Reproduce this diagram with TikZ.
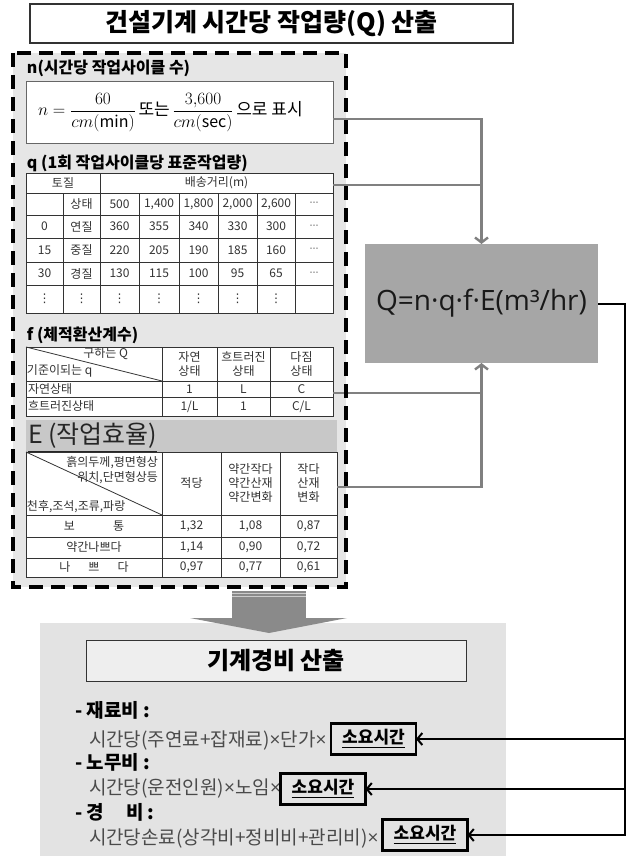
\documentclass[tikz,border=0pt]{standalone}
\usepackage{amsmath}
\usepackage{fontspec}
\setmainfont{Noto Sans CJK KR}
\newfontfamily\dejavu{DejaVu Sans}
\newfontfamily\qfont{Open Sans}
\usetikzlibrary{arrows.meta}
\definecolor{dashbg}{HTML}{E6E6E6}
\definecolor{panelbg}{HTML}{E3E3E3}
\definecolor{qgray}{HTML}{A6A6A6}
\definecolor{connG}{HTML}{808080}
\definecolor{arrowG}{HTML}{8A8A8A}
\definecolor{ebar}{HTML}{C8C8C8}
\definecolor{tabline}{HTML}{333333}
\definecolor{tabtxt}{HTML}{333333}
\definecolor{bodytxt}{HTML}{4A4A4A}
\newcommand{\fsz}[2]{\fontsize{#1}{#2}\selectfont}
\newcommand{\qhd}{{\dejavu\fsz{9}{10}⋯}}
\newcommand{\qvd}{{\dejavu\fsz{12}{13}⋮}}
\newcommand{\tms}{{\qfont ×}}
\newcommand{\qrow}[3]{%
  \foreach \t [count=\i] in {#3} {%
    \pgfmathsetmacro\xx{{44.5,81.5,119.5,159,198.5,237.5,276,314}[\i-1]}%
    \node[tcell] (q#1c\i) at (\xx,#2) {\t};}}
\begin{document}
\begin{tikzpicture}[x=1pt,y=-1pt,
  every node/.style={inner sep=0pt, outer sep=0pt},
  tcell/.style={font=\fsz{12}{14}, text=tabtxt, align=center},
  tgrid/.style={draw=tabline, line width=0.8pt},
  hdr/.style={font=\fsz{16}{18}\bfseries, text=black},
  gline/.style={draw=connG, line width=2.4pt},
  garrow/.style={gline, -{Straight Barb[length=5pt,width=13pt]}},
  bline/.style={draw=black, line width=2pt},
  barrow/.style={bline, -{Straight Barb[length=5pt,width=12pt]}},
  sbox/.style={draw=black, line width=2.8pt, minimum width=85pt, minimum height=31pt, font=\fsz{17}{20}\bfseries},
  lbl/.style={font=\fsz{19}{22}\bfseries, text=black},
  body/.style={font=\fsz{19}{22}, text=bodytxt}
]
\useasboundingbox (0,0) rectangle (636,856);
\fill[white] (0,0) rectangle (636,856);

% title
\node[draw=tabline, line width=1.4pt, fill=white, minimum width=483pt, minimum height=39pt,
      font=\fsz{25}{28}\bfseries] (title) at (271.5,23.5) {건설기계 시간당 작업량(Q) 산출};

% dashed panel background
\node[fill=dashbg, minimum width=333pt, minimum height=534pt] (panel) at (179.5,320) {};

% n section
\node[hdr, anchor=west] (nhdr) at (27,68) {n(시간당 작업사이클 수)};
\node[draw=gray!80!black, line width=1pt, fill=white, minimum width=307pt, minimum height=61pt,
      anchor=north west] (nbox) at (26,82) {};
\node[anchor=west] (nform) at (38,112.5) {\fsz{16}{18}$n=\dfrac{60}{cm(\mathrm{min})}$\,{\fsz{17}{19}또는}\,$\dfrac{3{,}600}{cm(\mathrm{sec})}$\,{\fsz{17}{19}으로\ 표시}};

% q section
\node[hdr, anchor=west] (qhdr) at (27,163) {q (1회 작업사이클당 표준작업량)};
\node[fill=white, minimum width=307pt, minimum height=140pt, anchor=north west] (qtab) at (26,173) {};
\draw[tgrid] (26,173) rectangle (333,313);
\foreach \y in {193,215,238,262,285} \draw[tgrid] (26,\y) -- (333,\y);
\draw[tgrid] (100,173) -- (100,313);
\foreach \x in {63,139,179,218,257,295} \draw[tgrid] (\x,193) -- (\x,313);
\node[tcell] (qh1) at (63,183) {토질};
\node[tcell] (qh2) at (216.5,183) {배송거리(m)};
\qrow{2}{204}{{},상태,500,{1,400},{1,800},{2,000},{2,600},\qhd}
\qrow{3}{226.5}{0,연질,360,355,340,330,300,\qhd}
\qrow{4}{250}{15,중질,220,205,190,185,160,\qhd}
\qrow{5}{273.5}{30,경질,130,115,100,95,65,\qhd}
\qrow{6}{299}{\qvd,\qvd,\qvd,\qvd,\qvd,\qvd,\qvd,{}}

% f section
\node[hdr, anchor=west] (fhdr) at (27,335) {f (체적환산계수)};
\node[fill=white, minimum width=307pt, minimum height=69pt, anchor=north west] (ftab) at (26,347) {};
\draw[tgrid] (26,347) rectangle (333,416);
\foreach \y in {381,397} \draw[tgrid] (26,\y) -- (333,\y);
\foreach \x in {162,217,270} \draw[tgrid] (\x,347) -- (\x,416);
\draw[tgrid] (26,347) -- (162,381);
\node[tcell, anchor=east] (fd1) at (128,354) {구하는 Q};
\node[tcell, anchor=west] (fd2) at (27,371) {기준이되는 q};
\node[tcell] (fc1) at (189.5,364) {자연\\상태};
\node[tcell] (fc2) at (243.5,364) {흐트러진\\상태};
\node[tcell] (fc3) at (301.5,364) {다짐\\상태};
\node[tcell, anchor=west] (fr1) at (28,389) {자연상태};
\node[tcell] (fr1a) at (189.5,389) {1};
\node[tcell] (fr1b) at (243.5,389) {L};
\node[tcell] (fr1c) at (301.5,389) {C};
\node[tcell, anchor=west] (fr2) at (28,406.5) {흐트러진상태};
\node[tcell] (fr2a) at (189.5,406.5) {1/L};
\node[tcell] (fr2b) at (243.5,406.5) {1};
\node[tcell] (fr2c) at (301.5,406.5) {C/L};

% E section
\node[fill=ebar, minimum width=311pt, minimum height=32pt, anchor=north west] (ebarn) at (26,420) {};
\node[anchor=base west, font=\fsz{25}{28}, text=black!85] (ehdr) at (28,443) {\underline{E (작업효율)}};
\node[fill=white, minimum width=311pt, minimum height=125pt, anchor=north west] (etab) at (26,452) {};
\draw[tgrid] (26,452) rectangle (337,577);
\foreach \y in {515,537,558} \draw[tgrid] (26,\y) -- (337,\y);
\foreach \x in {162,221,280} \draw[tgrid] (\x,452) -- (\x,577);
\draw[tgrid] (26,452) -- (162,515);
\node[tcell, anchor=east] (ed1) at (158,463) {흙의두께,평면형상};
\node[tcell, anchor=east] (ed2) at (158,478) {위치,단면형상등};
\node[tcell, anchor=west] (ed3) at (27,507) {천후,조석,조류,파랑};
\node[tcell] (ec1) at (191.5,483.5) {적당};
\node[tcell] (ec2) at (250.5,483.5) {약간작다\\약간산재\\약간변화};
\node[tcell] (ec3) at (308.5,483.5) {작다\\산재\\변화};
\node[tcell] (er1) at (94,526) {보\hspace{38pt}통};
\node[tcell] (er1a) at (191.5,526) {1,32};
\node[tcell] (er1b) at (250.5,526) {1,08};
\node[tcell] (er1c) at (308.5,526) {0,87};
\node[tcell] (er2) at (94,547.5) {약간나쁘다};
\node[tcell] (er2a) at (191.5,547.5) {1,14};
\node[tcell] (er2b) at (250.5,547.5) {0,90};
\node[tcell] (er2c) at (308.5,547.5) {0,72};
\node[tcell] (er3) at (94,567.5) {나\hspace{18pt}쁘\hspace{18pt}다};
\node[tcell] (er3a) at (191.5,567.5) {0,97};
\node[tcell] (er3b) at (250.5,567.5) {0,77};
\node[tcell] (er3c) at (308.5,567.5) {0,61};

% Q box
\node[fill=qgray, minimum width=233pt, minimum height=119pt, font=\qfont\fsz{28}{30}, text=black!90]
  (qbox) at (481.5,303.5) {Q=n·q·f·E(m³/hr)};

% gray connectors
\coordinate (nout) at (333,119);
\coordinate (qout) at (333,185);
\coordinate (fout) at (333,393);
\coordinate (eout) at (337,487);
\draw[gline] (qout) -- (qout -| qbox.north);
\draw[garrow] (nout) -| (qbox.north);
\draw[gline] (fout) -- (fout -| qbox.south);
\draw[garrow] (eout) -| (qbox.south);

% dashed border on top
\draw[black, line width=3.5pt, dash pattern=on 14pt off 8pt] (panel.north west) rectangle (panel.south east);

% bottom panel
\node[fill=panelbg, minimum width=466pt, minimum height=233pt, anchor=north west] (bpanel) at (40,623) {};
% big arrow
\fill[arrowG] (232,591) rectangle (306,619);
\draw[gray!40, line width=1pt] (232,593) -- (306,593);
\draw[gray!40, line width=1pt] (232,596) -- (306,596);
\fill[arrowG] (190,618) -- (347,618) -- (269,633) -- cycle;

\node[draw=tabline, line width=1pt, fill=panelbg!60!white, minimum width=380pt, minimum height=41pt,
      font=\fsz{24}{26}\bfseries] (kbox) at (276,660.5) {기계경비 산출};

\node[lbl, anchor=west] (l1) at (75,710) {- 재료비 :};
\node[body, anchor=west] (t1) at (89,740) {시간당(주연료+잡재료)\tms 단가\tms};
\node[sbox] (s1) at (373.5,739) {\underline{소요시간}};
\node[lbl, anchor=west] (l2) at (75,762) {- 노무비 :};
\node[body, anchor=west] (t2) at (89,788) {시간당(운전인원)\tms 노임\tms};
\node[sbox] (s2) at (323,789) {\underline{소요시간}};
\node[lbl, anchor=west] (l3) at (75,812) {- 경\hspace{22pt}비 :};
\node[body, anchor=west] (t3) at (89,838) {시간당손료(상각비+정비비+관리비)\tms};
\node[sbox] (s3) at (425,835) {\underline{소요시간}};

% black connectors
\coordinate (rt) at (625,303.5);
\draw[barrow] (qbox.east) -- (rt) -- (rt |- s3.east) -- (s3.east);
\draw[barrow] (rt |- s1.east) -- (s1.east);
\draw[barrow] (rt |- s2.east) -- (s2.east);
\end{tikzpicture}
\end{document}
